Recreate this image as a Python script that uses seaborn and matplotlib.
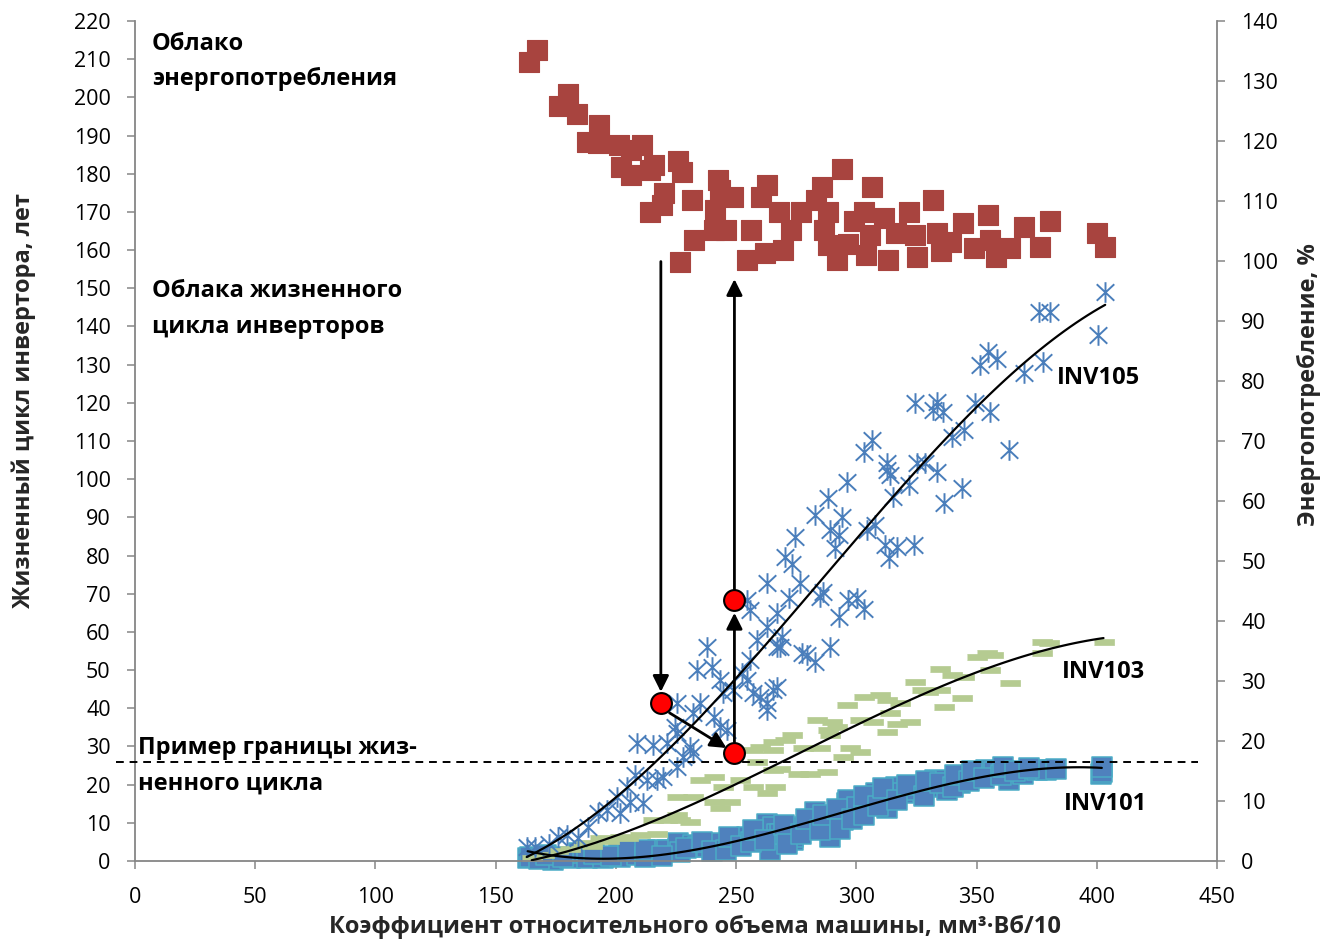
import numpy as np
import pandas as pd
import matplotlib
matplotlib.use("Agg")
import matplotlib.pyplot as plt
from matplotlib.path import Path
import seaborn as sns

# ---------------- data ----------------
# energy consumption cloud (right axis, %)
energy_x = [167.1, 163.7, 180.1, 176.2, 183.9, 192.9, 188.0, 192.4, 201.2, 211.0,
            206.1, 215.9, 202.0, 206.1, 225.8, 227.5, 214.3, 220.0, 214.0, 219.2,
            231.6, 242.3, 243.1, 248.8, 241.4, 240.6, 245.6, 232.4, 226.6, 262.8,
            260.4, 256.2, 254.6, 262.0, 269.4, 267.8, 276.8, 272.7, 283.4, 285.8,
            294.1, 288.3, 286.6, 288.3, 292.1, 296.5, 299.0, 303.1, 306.4, 311.3,
            305.6, 303.9, 313.0, 322.0, 316.3, 324.5, 325.3, 331.9, 333.5, 335.1,
            339.3, 344.2, 349.1, 354.9, 355.7, 358.2, 364.0, 369.7, 376.3, 380.4,
            400.1, 403.4]
energy_pct = [135.2, 133.1, 127.8, 125.9, 124.5, 122.7, 119.9, 119.6, 119.3, 119.3,
              118.5, 116.0, 115.7, 114.3, 116.6, 114.9, 115.2, 111.3, 108.2, 109.3,
              110.2, 113.5, 111.8, 110.7, 108.5, 105.2, 105.2, 103.5, 99.9, 112.7,
              110.7, 105.2, 100.2, 101.3, 101.8, 108.2, 108.2, 105.2, 110.2, 112.4,
              115.4, 108.2, 105.2, 102.7, 100.2, 102.9, 106.6, 108.2, 112.4, 107.1,
              104.3, 101.0, 100.2, 108.2, 104.6, 104.3, 100.7, 110.2, 104.6, 101.6,
              103.2, 106.3, 102.1, 107.7, 103.5, 100.7, 102.1, 105.7, 102.4, 106.6,
              104.6, 102.4]

# INV105 lifetime cloud
inv105_x = [162.9, 166.4, 172.0, 176.1, 179.6, 184.4, 188.6, 192.7, 196.2, 201.7,
            200.4, 205.9, 211.4, 204.5, 208.0, 212.8, 217.0, 219.8, 225.3, 208.7,
            215.6, 221.2, 225.3, 230.9, 232.2, 228.1, 224.6, 225.3, 232.2, 235.0,
            240.6, 243.3, 246.1, 237.8, 233.6, 239.9, 243.3, 244.7, 248.9, 252.4,
            254.4, 257.2, 260.0, 262.8, 262.8, 265.5, 255.8, 258.6, 262.8, 255.8,
            254.4, 262.8, 266.9, 266.9, 306.4, 303.0, 312.7, 312.7, 314.1, 325.2,
            328.6, 333.5, 321.7, 315.4, 339.7, 344.6, 343.9, 336.3, 363.5, 296.0,
            288.4, 282.9, 274.5, 270.4, 273.2, 294.0, 289.1, 292.6, 291.1, 304.4,
            307.8, 312.0, 316.8, 323.8, 313.4, 276.6, 271.8, 286.3, 284.9, 296.7,
            300.2, 303.0, 292.6, 269.0, 268.3, 277.3, 279.4, 282.9, 289.1, 266.9,
            403.5, 400.7, 375.8, 380.6, 354.9, 358.4, 351.5, 377.8, 369.6, 349.4,
            355.7, 324.5, 333.5, 331.9, 336.0]
inv105_y = [3.7, 3.7, 4.5, 6.4, 6.8, 5.9, 9.0, 12.5, 13.4, 12.5,
            16.8, 15.5, 15.1, 19.5, 22.5, 21.2, 21.2, 22.1, 24.7, 30.8,
            30.4, 30.8, 33.4, 29.9, 28.2, 27.3, 35.2, 41.3, 38.7, 41.3,
            37.8, 35.2, 34.3, 56.1, 50.0, 50.9, 47.4, 43.9, 44.8, 49.2,
            47.4, 43.9, 43.0, 41.3, 39.5, 44.8, 52.6, 57.9, 61.4, 65.7,
            68.4, 72.7, 64.9, 56.1, 110.3, 107.2, 104.2, 102.4, 101.1, 104.2,
            104.2, 102.0, 98.5, 95.4, 111.1, 112.9, 97.6, 93.7, 107.6, 99.3,
            95.0, 90.6, 84.9, 79.7, 77.9, 90.2, 86.7, 85.4, 81.9, 86.7,
            88.0, 82.8, 82.3, 82.8, 79.3, 72.7, 68.8, 70.5, 69.2, 68.4,
            68.8, 66.1, 64.0, 58.7, 56.1, 54.4, 53.9, 52.2, 56.1, 45.6,
            149.1, 137.8, 143.9, 143.9, 133.4, 131.6, 129.9, 130.8, 127.7, 119.9,
            117.7, 119.9, 120.3, 118.1, 117.7]

# INV103 lifetime cloud
inv103_x = [165.0, 170.0, 176.0, 181.0, 186.5, 193.4, 201.7, 210.1, 217.0, 215.6,
            221.2, 226.7, 225.3, 230.9, 225.3, 232.2, 240.6, 247.5, 243.3, 235.0,
            240.6, 244.7, 251.7, 257.2, 262.8, 257.2, 260.0, 265.5, 265.5, 258.6,
            265.5, 402.8, 377.2, 377.2, 354.2, 350.1, 357.0, 355.6, 364.0, 334.9,
            339.7, 344.6, 324.5, 330.0, 334.9, 343.9, 327.2, 336.3, 303.0, 309.9,
            312.7, 318.2, 296.0, 314.1, 301.6, 307.1, 316.8, 322.4, 312.7, 283.5,
            289.8, 288.4, 291.8, 289.1, 273.2, 270.4, 278.0, 284.9, 297.4, 301.6,
            294.6, 268.3, 275.9, 280.8, 287.6, 266.2, 190.0, 197.0, 205.0, 380.0]
inv103_y = [0.8, 1.5, 2.5, 3.2, 4.6, 5.9, 6.3, 6.8, 7.2, 10.7,
            10.7, 10.7, 12.0, 10.3, 16.8, 16.8, 15.5, 15.5, 13.8, 21.2,
            22.1, 19.5, 21.2, 19.5, 17.7, 29.1, 29.9, 29.1, 31.2, 26.0,
            23.8, 57.4, 57.4, 54.4, 54.4, 53.5, 53.9, 50.0, 46.7, 50.4,
            48.7, 48.3, 47.0, 44.3, 44.8, 42.6, 44.8, 40.4, 43.0, 43.5,
            42.2, 41.3, 40.9, 38.7, 36.9, 36.5, 36.0, 36.5, 33.8, 36.9,
            36.5, 34.3, 35.2, 33.0, 33.0, 31.7, 29.5, 29.5, 29.5, 28.6,
            27.3, 24.2, 22.9, 22.9, 23.4, 19.5, 4.0, 5.2, 6.0, 57.0]

# INV101 lifetime cloud
inv101_x = [163.3, 164.3, 174.0, 181.0, 184.7, 187.9, 194.8, 201.2, 201.7, 208.7,
            215.6, 217.6, 221.2, 225.8, 226.7, 232.2, 234.0, 237.8, 243.3, 248.9,
            250.5, 254.4, 258.7, 260.0, 262.8, 264.1, 265.5, 266.9, 268.3, 273.5,
            273.8, 275.2, 282.2, 282.9, 289.1, 289.1, 291.6, 294.6, 296.0, 296.5,
            299.8, 300.2, 305.7, 308.0, 312.6, 314.1, 316.3, 319.6, 324.5, 332.1,
            332.7, 337.6, 343.2, 344.2, 350.1, 354.1, 357.1, 363.3, 369.5, 375.1,
            378.7, 401.7, 402.1, 402.1,
            168.0, 171.0, 178.0, 191.0, 198.0, 205.0, 212.0, 212.0, 219.0, 229.0,
            236.0, 240.0, 246.0, 247.0, 252.0, 256.0, 257.0, 262.0, 270.0, 271.0,
            277.0, 279.0, 285.0, 286.0, 292.0, 293.0, 298.0, 303.0, 303.0, 309.0,
            311.0, 317.0, 321.0, 328.0, 329.0, 335.0, 340.0, 341.0, 347.0, 348.0,
            353.0, 360.0, 361.0, 366.0, 372.0, 383.0]
inv101_y = [0.7, 1.1, 0.3, 0.7, 2.0, 0.7, 0.7, 2.4, 1.1, 1.6,
            1.6, 2.9, 2.9, 4.6, 2.4, 4.2, 3.7, 3.7, 4.6, 5.0,
            5.5, 6.4, 6.4, 7.2, 9.8, 2.9, 9.0, 7.2, 7.2, 5.5,
            6.4, 9.0, 9.0, 12.9, 9.8, 6.4, 10.7, 10.7, 15.1, 16.0,
            12.5, 14.2, 16.0, 17.7, 13.8, 17.7, 19.5, 17.7, 18.6, 19.5,
            21.2, 18.6, 20.4, 22.1, 22.5, 23.8, 23.4, 21.2, 22.9, 23.8,
            23.8, 22.9, 23.4, 24.5,
            0.5, 1.5, 1.0, 1.8, 1.2, 2.5, 1.0, 3.0, 1.2, 3.5,
            5.0, 2.5, 3.0, 6.2, 4.0, 5.0, 8.0, 5.5, 9.5, 4.5,
            7.0, 11.0, 8.0, 12.0, 13.5, 8.5, 11.0, 12.0, 17.0, 14.5,
            19.0, 16.0, 20.0, 17.0, 21.0, 20.5, 19.5, 22.5, 21.0, 23.5,
            21.8, 22.5, 24.5, 23.5, 24.3, 24.0]

# worked example: lifetime points of the chosen inverters
example_x = [218.7, 249.3, 249.3]
example_y = [41.5, 28.4, 68.4]

lifetime_limit = 26

# ---------------- style ----------------
sns.set_theme(style="white")
plt.rcParams["font.family"] = ["Open Sans", "DejaVu Sans"]

grey = "#868686"
red_sq = "#A8443F"
blue_star = "#4A7EBB"
green_dash = "#B5CB91"
teal_fill = "#4F81BD"
teal_edge = "#4BACC6"

W, H = 1332, 942
fig = plt.figure(figsize=(W / 100, H / 100), dpi=100)
ax = fig.add_axes([135 / W, 1 - 861 / H, (1217 - 135) / W, (861 - 21) / H])
ax2 = ax.twinx()

# asterisk marker: an X crossed by a vertical stroke
star_path = Path(
    [(-0.85, -0.8), (0.85, 0.8), (-0.85, 0.8), (0.85, -0.8), (0, -1.0), (0, 1.0)],
    [Path.MOVETO, Path.LINETO, Path.MOVETO, Path.LINETO, Path.MOVETO, Path.LINETO],
)
dash_marker = [(-1, -0.28), (1, -0.28), (1, 0.28), (-1, 0.28)]

msize = 205

sns.scatterplot(x=inv101_x, y=inv101_y, ax=ax, marker="s", s=msize,
                color=teal_fill, edgecolor=teal_edge, linewidth=1.1,
                clip_on=False, zorder=2)
sns.scatterplot(x=inv103_x, y=inv103_y, ax=ax, marker=dash_marker, s=215,
                color=green_dash, edgecolor=green_dash, linewidth=0.5,
                clip_on=False, zorder=2.1)
sns.scatterplot(x=inv105_x, y=inv105_y, ax=ax, marker=star_path, s=220,
                color=blue_star, edgecolor=blue_star, linewidth=1.4,
                clip_on=False, zorder=2.2)

# cubic trend lines
for xs, ys in [(inv105_x, inv105_y), (inv103_x, inv103_y), (inv101_x, inv101_y)]:
    sns.regplot(x=xs, y=ys, ax=ax, order=3, ci=None, scatter=False, truncate=True,
                line_kws=dict(color="black", lw=1.6, zorder=3))

# lifetime limit
ax.plot([-8, 442], [lifetime_limit, lifetime_limit], ls=(0, (4, 3)), color="black",
        lw=1.4, clip_on=False, zorder=4)

# arrows of the worked example
arrow_kw = dict(arrowstyle="-|>", color="black", lw=2.0, mutation_scale=24,
                shrinkA=0, shrinkB=0)
arrows = [((218.7, 157.0), (218.7, 44.3)),
          ((222.3, 38.8), (246.0, 29.6)),
          ((249.3, 31.2), (249.3, 65.0)),
          ((249.3, 71.2), (249.3, 152.4))]
for start, end in arrows:
    ax.annotate("", xy=end, xytext=start, arrowprops=arrow_kw, zorder=5)

sns.scatterplot(x=example_x, y=example_y, ax=ax, marker="o", s=225,
                color="#FF0000", edgecolor="black", linewidth=1.5,
                clip_on=False, zorder=6)

# energy cloud on the right axis
sns.scatterplot(x=energy_x, y=energy_pct, ax=ax2, marker="s", s=msize,
                color=red_sq, edgecolor=red_sq, linewidth=0.8,
                clip_on=False, zorder=2)

# ---------------- axes ----------------
ax.set_xlim(0, 450)
ax.set_ylim(0, 220)
ax2.set_ylim(0, 140)
ax.set_xticks(np.arange(0, 451, 50))
ax.set_yticks(np.arange(0, 221, 10))
ax2.set_yticks(np.arange(0, 141, 10))
ax.set_xlabel("")
ax.set_ylabel("")
ax2.set_ylabel("")

for a in (ax, ax2):
    for s in a.spines.values():
        s.set_color(grey)
        s.set_linewidth(1.3)
    a.spines["top"].set_visible(False)
ax.spines["right"].set_visible(False)
ax2.spines["left"].set_visible(False)
ax2.spines["bottom"].set_visible(False)

tick_font = 15.5
ax.tick_params(axis="both", direction="out", length=5.5, width=1.1, color=grey,
               labelsize=tick_font, labelcolor="black", pad=11)
ax.tick_params(axis="y", pad=12)
ax.tick_params(axis="x", pad=13)
ax2.tick_params(axis="y", direction="out", length=5.5, width=1.1, color=grey,
                labelsize=tick_font, labelcolor="black", pad=12, right=True)
ax.tick_params(left=True, bottom=True)
ax.grid(False)
ax2.grid(False)

# ---------------- texts ----------------
bold = dict(fontsize=17, fontweight="bold", color="black", va="baseline", ha="left")
ax.text(7.0, 212.4, "Облако", **bold)
ax.text(7.0, 203.2, "энергопотребления", **bold)
ax.text(7.0, 147.8, "Облака жизненного", **bold)
ax.text(7.0, 138.3, "цикла инверторов", **bold)
ax.text(1.4, 27.9, "Пример границы жиз-", **bold)
ax.text(1.4, 18.6, "ненного цикла", **bold)
ax.text(383.5, 125.0, "INV105", **bold)
ax.text(385.5, 47.8, "INV103", **bold)
ax.text(386.2, 13.4, "INV101", **bold)

fig.text(24 / W, 1 - 401 / H, "Жизненный цикл инвертора, лет", rotation=90,
         fontsize=17, fontweight="bold", ha="center", va="center")
fig.text(1309 / W, 1 - 385 / H, "Энергопотребление, %", rotation=90,
         fontsize=17, fontweight="bold", ha="center", va="center")
fig.text(695 / W, 1 - 927 / H, "Коэффициент относительного объема машины, мм³·Вб/10",
         fontsize=17, fontweight="bold", ha="center", va="center")

fig.savefig("out.png", dpi=100, facecolor="white")
